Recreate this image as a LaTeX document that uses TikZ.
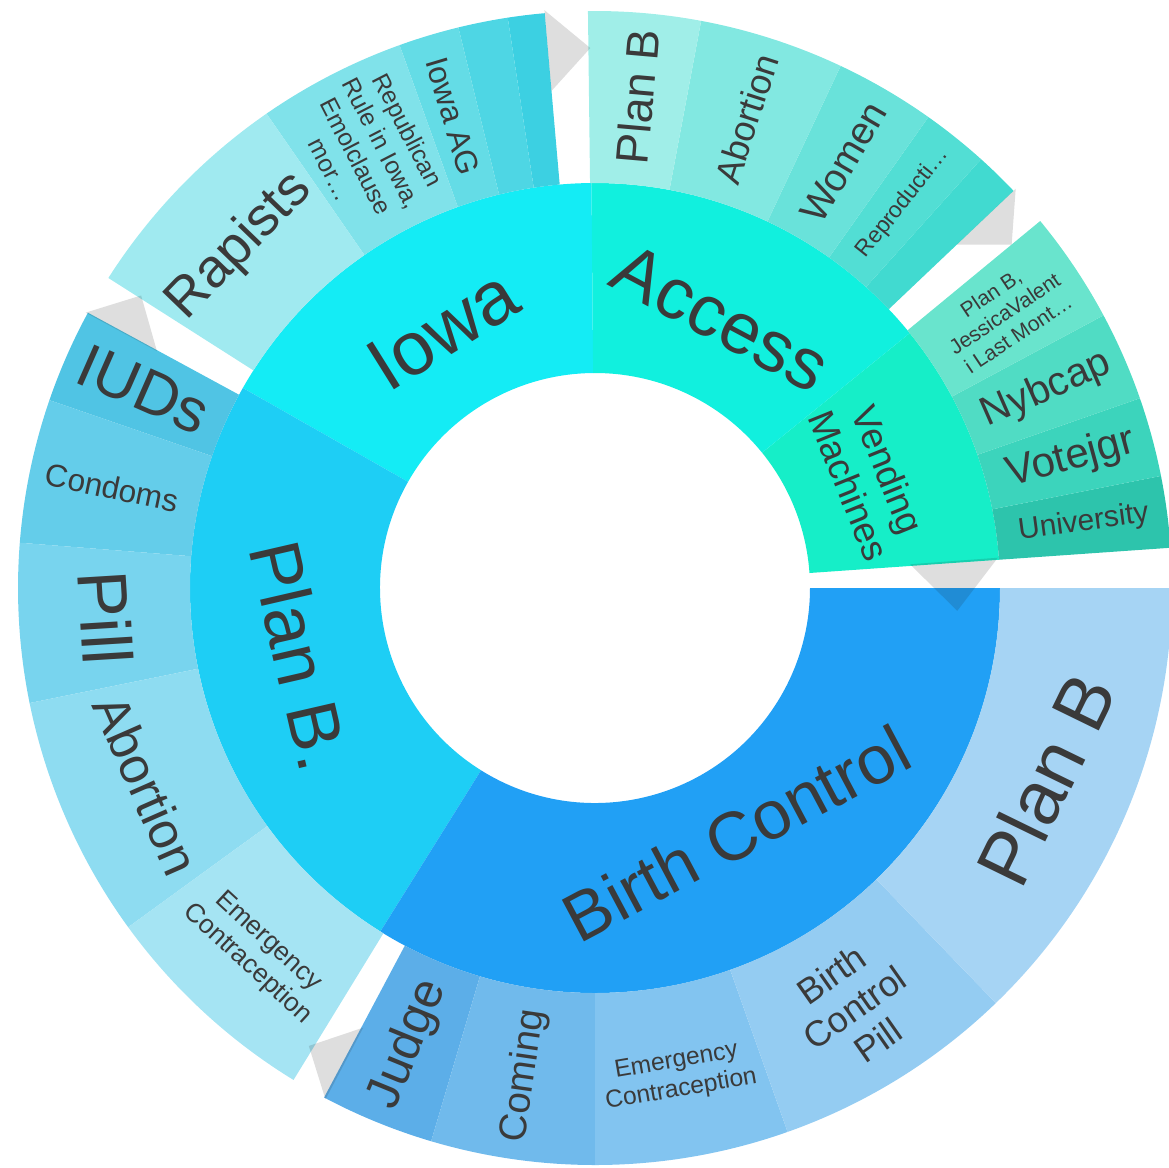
\documentclass[tikz,border=0pt]{standalone}
\usepackage{fontspec}
\setmainfont{Liberation Sans}

\definecolor{txtgrey}{RGB}{58,58,58}
% inner ring
\definecolor{iowaC}{RGB}{20,236,245}
\definecolor{accessC}{RGB}{17,240,222}
\definecolor{vendC}{RGB}{22,238,200}
\definecolor{bcC}{RGB}{33,160,245}
\definecolor{pbC}{RGB}{30,206,245}
% outer ring
\definecolor{iowa1}{RGB}{160,234,240}
\definecolor{iowa2}{RGB}{128,226,234}
\definecolor{iowa3}{RGB}{100,220,230}
\definecolor{iowa4}{RGB}{78,214,228}
\definecolor{iowa5}{RGB}{60,208,226}
\definecolor{acc1}{RGB}{160,238,232}
\definecolor{acc2}{RGB}{130,232,225}
\definecolor{acc3}{RGB}{105,226,218}
\definecolor{acc4}{RGB}{82,222,212}
\definecolor{acc5}{RGB}{65,218,208}
\definecolor{vend1}{RGB}{105,228,205}
\definecolor{vend2}{RGB}{80,220,196}
\definecolor{vend3}{RGB}{60,212,188}
\definecolor{vend4}{RGB}{45,196,172}
\definecolor{bc1}{RGB}{166,212,244}
\definecolor{bc2}{RGB}{148,204,242}
\definecolor{bc3}{RGB}{130,196,240}
\definecolor{bc4}{RGB}{112,186,236}
\definecolor{bc5}{RGB}{92,174,232}
\definecolor{pb1}{RGB}{80,196,228}
\definecolor{pb2}{RGB}{100,205,234}
\definecolor{pb3}{RGB}{120,212,238}
\definecolor{pb4}{RGB}{142,220,241}
\definecolor{pb5}{RGB}{165,228,243}

% colour, start angle, end angle, inner radius, outer radius
\newcommand{\ringpart}[5]{%
  \fill[#1] (#2:#4) arc[start angle=#2, end angle=#3, radius=#4]
    -- (#3:#5) arc[start angle=#3, end angle=#2, radius=#5] -- cycle;}
\newcommand{\fs}[2]{\fontsize{#1}{#2}\selectfont}

\begin{document}
\begin{tikzpicture}[x=0.02cm, y=0.02cm,
  lab/.style={text=txtgrey, align=center, inner sep=0pt},
  marker/.style={fill=black!88, fill opacity=0.15}]
\useasboundingbox (-595,-579) rectangle (574,588);

% inner ring
\ringpart{iowaC}{90.5}{150.4}{215}{405}
\ringpart{pbC}{150.4}{238}{215}{405}
\ringpart{bcC}{238}{360}{215}{405}
\ringpart{vendC}{4}{39}{215}{405}
\ringpart{accessC}{39}{90.5}{215}{405}

% outer ring
\foreach \a/\b/\c in {95/98.7/iowa5, 98.7/103.7/iowa4, 103.7/109.8/iowa3,
    109.8/124.7/iowa2, 124.7/147.5/iowa1,
    43.5/48/acc5, 48/54.7/acc4, 54.7/64.8/acc3, 64.8/79.4/acc2, 79.4/90.7/acc1,
    4/11.2/vend4, 11.2/19.2/vend3, 19.2/28.2/vend2, 28.2/39.5/vend1,
    242/253.5/bc5, 253.5/270/bc4, 270/289.5/bc3, 289.5/314/bc2, 314/360/bc1,
    151.5/161/pb1, 161/175.5/pb2, 175.5/191.5/pb3, 191.5/216/pb4, 216/238.5/pb5}
  {\ringpart{\c}{\a}{\b}{405}{577}}

% group markers
\fill[marker] (95:499) -- (95:580) -- (90.5:540) -- cycle;
\fill[marker] (43.5:499) -- (43.5:580) -- (39.5:540) -- cycle;
\fill[marker] (4.3:316) -- (4.3:404) -- (-3.6:363) -- cycle;
\fill[marker] (242.2:497) -- (242.2:578) -- (238:540) -- cycle;
\fill[marker] (151.6:498) -- (151.6:579) -- (147.2:540) -- cycle;

% inner labels
\node[lab, font=\fs{43}{48}, rotate=32] (iowa) at (120.5:300) {Iowa};
\node[lab, font=\fs{41}{46}, rotate=-28] (access) at (65:298) {Access};
\node[lab, font=\fs{21}{24}, rotate=-68] (vending) at (22:295) {Vending\\Machines};
\node[lab, font=\fs{39}{44}, rotate=28] (birthcontrol) at (-60:283) {Birth Control};
\node[lab, font=\fs{41}{46}, rotate=-77] (planbdot) at (193:303) {Plan B.};

% outer labels: Iowa
\node[lab, font=\fs{31}{35}, rotate=46] (rapists) at (136.1:493) {Rapists};
\node[lab, font=\fs{14}{16.5}, rotate=-62.75] (republican) at (117.25:493) {Republican\\Rule in Iowa,\\Emolclause\\mor…};
\node[lab, font=\fs{18}{21}, rotate=-73.25] (iowaag) at (106.75:493) {Iowa AG};
% Access
\node[lab, font=\fs{26}{30}, rotate=85] (accplanb) at (85.05:493) {Plan B};
\node[lab, font=\fs{20.5}{24}, rotate=72.1] (accabortion) at (72.1:493) {Abortion};
\node[lab, font=\fs{22}{25}, rotate=59.75] (women) at (59.75:493) {Women};
\node[lab, font=\fs{13}{15}, rotate=51.35] (reproducti) at (51.35:493) {Reproducti…};
% Vending Machines
\node[lab, font=\fs{12}{14}, rotate=33.85] (jessica) at (33.85:493) {Plan B,\\JessicaValent\\i Last Mont…};
\node[lab, font=\fs{23}{26}, rotate=23.7] (nybcap) at (23.7:493) {Nybcap};
\node[lab, font=\fs{24}{27}, rotate=15.2] (votejgr) at (15.2:493) {Votejgr};
\node[lab, font=\fs{17}{20}, rotate=7.6] (university) at (7.6:493) {University};
% Birth Control
\node[lab, font=\fs{43}{48}, rotate=64] (bcplanb) at (337:490) {Plan B};
\node[lab, font=\fs{20.5}{23}, rotate=35] (bcpill) at (301.75:493) {Birth\\Control\\Pill};
\node[lab, font=\fs{14}{16.5}, rotate=9.75] (bcemerg) at (279.75:495) {Emergency\\Contraception};
\node[lab, font=\fs{22}{25}, rotate=81.75] (coming) at (261.75:493) {Coming};
\node[lab, font=\fs{28}{32}, rotate=67.75] (judge) at (247.75:493) {Judge};
% Plan B.
\node[lab, font=\fs{35}{40}, rotate=-23.75] (iuds) at (156.25:493) {IUDs};
\node[lab, font=\fs{18}{21}, rotate=-11.75] (condoms) at (168.25:493) {Condoms};
\node[lab, font=\fs{40}{45}, rotate=-86.5] (pill) at (183.5:490) {Pill};
\node[lab, font=\fs{29}{33}, rotate=-66.25] (pbabortion) at (203.75:490) {Abortion};
\node[lab, font=\fs{15}{17.5}, rotate=-42.75] (pbemerg) at (227.25:497) {Emergency\\Contraception};
\end{tikzpicture}
\end{document}
